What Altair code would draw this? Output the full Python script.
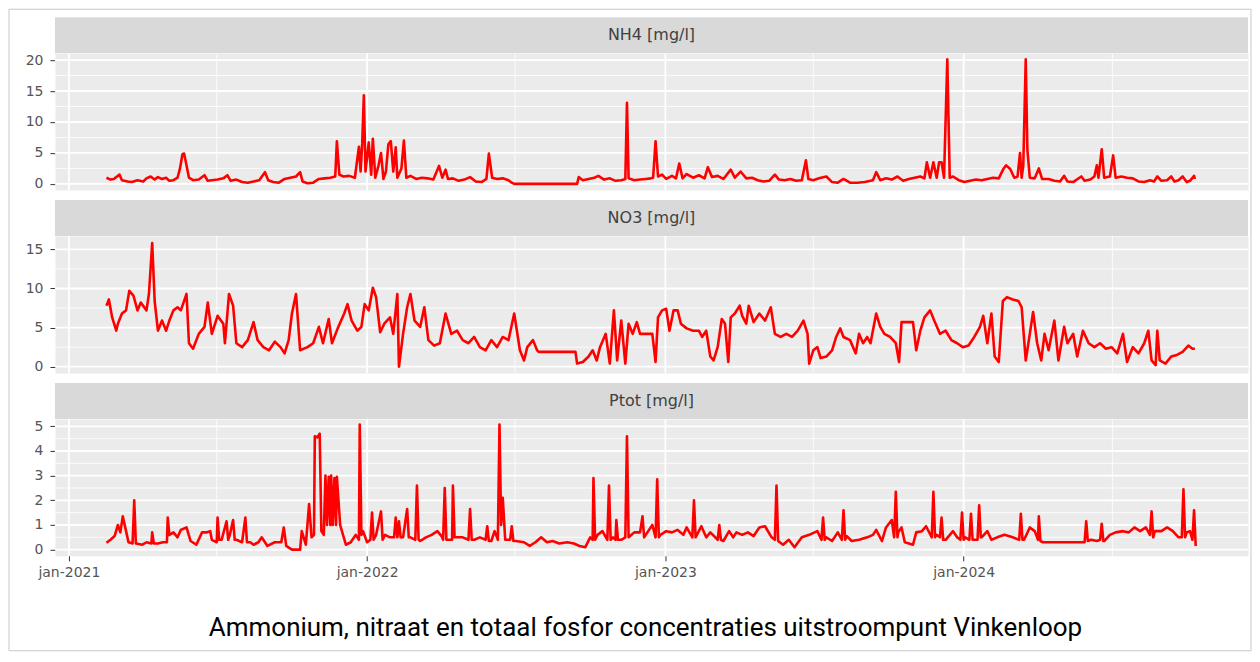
import altair as alt
import pandas as pd

# ---------------- data (day number since 2021-01-01, value) ----------------
nh4_day = [46, 51, 55, 62, 65, 72, 77, 84, 91, 95, 100, 105, 109, 114, 119, 123, 128, 133, 136, 139,
           141, 144, 147, 152, 159, 166, 170, 175, 182, 189, 194, 198, 205, 212, 219, 226, 233, 240, 244, 250,
           257, 264, 271, 278, 283, 286, 292, 299, 306, 313, 320, 326, 328, 331, 336, 343, 350, 355, 357, 359,
           361, 363, 367, 370, 372, 375, 379, 382, 385, 388, 391, 394, 397, 400, 402, 407, 410, 413, 418, 425,
           432, 439, 446, 453, 457, 461, 464, 470, 477, 484, 491, 498, 505, 511, 514, 518, 524, 531, 538, 542,
           545, 622, 624, 629, 636, 643, 648, 655, 662, 669, 676, 681, 683, 685, 692, 699, 706,
           712, 715, 718, 721, 726, 731, 738, 743, 747, 751, 756, 764, 771, 778, 782, 787, 794, 801, 810, 815,
           822, 829, 836, 843, 850, 857, 864, 869, 876, 883, 890, 897, 902, 905, 911, 918, 927, 934, 941, 948,
           956, 965, 974, 984, 988, 993, 1000, 1007, 1014, 1021, 1028, 1035, 1042, 1047, 1050, 1054, 1058, 1062,
           1065, 1068, 1071, 1075, 1078, 1082, 1089, 1096, 1103, 1110, 1117, 1124, 1131, 1138, 1144, 1147, 1152,
           1157, 1161, 1164, 1166, 1168, 1171, 1173, 1176, 1182, 1187, 1191, 1199, 1206, 1213, 1218, 1222, 1229,
           1239, 1243, 1250, 1255, 1258, 1260, 1264, 1267, 1274, 1278, 1281, 1288, 1295, 1302, 1309, 1316, 1323,
           1328, 1332, 1337, 1344, 1349, 1353, 1358, 1363, 1368, 1372, 1377, 1378]
nh4_val = [1.0, 0.7, 0.8, 1.5, 0.6, 0.4, 0.3, 0.6, 0.4, 0.9, 1.2, 0.7, 1.1, 0.8, 1.0, 0.5, 0.6, 1.0, 2.5, 4.8,
           4.9, 3.0, 1.0, 0.6, 0.7, 1.4, 0.5, 0.6, 0.7, 0.9, 1.4, 0.5, 0.7, 0.3, 0.2, 0.4, 0.6, 1.9, 0.6, 0.3,
           0.2, 0.8, 1.0, 1.2, 1.9, 0.4, 0.1, 0.2, 0.8, 0.9, 1.0, 1.2, 6.9, 1.5, 1.2, 1.3, 1.0, 6.0, 2.0, 6.5,
           14.3, 2.0, 6.7, 1.5, 7.3, 1.0, 3.0, 5.0, 0.8, 2.0, 6.4, 6.9, 2.0, 5.9, 1.0, 2.5, 7.0, 1.0, 1.3, 0.8,
           1.0, 0.9, 0.7, 2.9, 1.0, 2.3, 0.8, 0.9, 0.5, 0.7, 1.1, 0.4, 0.3, 0.8, 4.9, 1.0, 0.8, 0.9, 0.6, 0.2,
           0.0, 0.0, 1.1, 0.6, 0.8, 1.0, 1.3, 0.7, 0.9, 0.5, 0.6, 0.8, 13.1, 0.9, 0.6, 0.7, 0.8,
           0.9, 1.0, 6.9, 1.2, 1.5, 0.8, 1.3, 0.9, 3.3, 0.9, 1.6, 1.0, 1.4, 0.9, 2.7, 1.1, 1.3, 0.8, 2.3, 1.0,
           2.0, 0.9, 1.0, 0.6, 0.4, 0.5, 1.5, 0.7, 0.6, 0.8, 0.5, 0.6, 3.8, 0.8, 0.6, 0.9, 1.2, 0.3, 0.2, 0.8,
           0.2, 0.2, 0.3, 0.6, 1.9, 0.6, 0.9, 0.7, 1.2, 0.5, 0.8, 1.0, 1.2, 0.9, 3.5, 1.0, 3.5, 1.0,
           3.5, 3.5, 1.0, 20.1, 1.0, 1.2, 0.6, 0.3, 0.5, 0.7, 0.6, 0.8, 1.0, 0.9, 2.5, 3.0, 2.4,
           1.0, 1.2, 5.0, 1.0, 3.0, 20.1, 5.5, 1.0, 0.9, 2.5, 0.8, 0.8, 0.5, 0.4, 1.3, 0.4, 0.3,
           1.2, 0.5, 0.7, 1.2, 3.0, 1.0, 5.6, 1.0, 1.2, 4.6, 1.0, 1.2, 1.0, 0.9, 0.4, 0.3, 0.6,
           0.4, 1.2, 0.5, 0.6, 1.2, 0.4, 0.6, 1.2, 0.3, 0.5, 1.3, 0.8]

no3_day = [46, 49, 53, 58, 60, 65, 70, 74, 79, 84, 88, 95, 98, 102, 105, 109, 114, 119, 123, 128,
           133, 137, 144, 147, 152, 159, 166, 170, 175, 182, 189, 191, 196, 201, 205, 212, 219, 226, 231, 238,
           245, 252, 259, 264, 269, 273, 278, 283, 292, 299, 306, 311, 318, 322, 329, 337, 341, 346, 353, 358,
           362, 367, 372, 376, 381, 386, 393, 397, 402, 404, 409, 414, 418, 423, 430, 435, 440, 447, 454, 461,
           468, 475, 482, 489, 496, 503, 510, 517, 524, 531, 538, 545, 552, 557, 561, 568, 573, 575, 620, 622,
           629, 636, 641, 646, 650, 657, 662, 667, 671, 676, 681, 685, 690, 695, 699,
           714, 718, 721, 726, 731, 735, 740, 745, 749, 756, 764, 771, 775, 780, 785, 789, 794, 799, 803, 807,
           810, 815, 821, 824, 829, 832, 838, 845, 852, 859, 864, 871, 878, 885, 892, 899, 904, 906, 911, 916,
           920, 927, 934, 939, 944, 948, 956, 963, 967, 972, 977, 981, 988, 993, 998, 1005, 1012, 1016, 1019, 1033,
           1037, 1042, 1047, 1054, 1059, 1066, 1073, 1080, 1087, 1094, 1101, 1108, 1115, 1119, 1124, 1129, 1133,
           1138, 1143, 1148, 1155, 1162, 1166, 1171, 1176, 1180, 1185, 1190, 1194, 1199, 1206, 1211, 1218, 1222,
           1229, 1234, 1241, 1248, 1255, 1262, 1269, 1276, 1283, 1290, 1295, 1302, 1309, 1316, 1321, 1325, 1330,
           1332, 1335, 1342, 1349, 1356, 1363, 1370, 1375, 1378]
no3_val = [7.8, 8.6, 6.3, 4.6, 5.5, 6.8, 7.2, 9.7, 9.1, 7.2, 8.2, 7.2, 9.3, 15.8, 8.4, 4.6, 5.9, 4.6, 5.9, 7.2,
           7.6, 7.2, 9.3, 3.0, 2.3, 4.2, 5.1, 8.2, 4.2, 6.5, 5.5, 3.0, 9.3, 7.8, 3.0, 2.5, 3.4, 5.7, 3.4, 2.5,
           2.1, 3.2, 2.5, 1.7, 3.4, 6.8, 9.3, 2.1, 2.5, 3.0, 5.1, 3.0, 6.1, 3.0, 4.9, 6.8, 8.0, 5.9, 4.6, 5.1,
           8.0, 7.2, 10.1, 8.9, 4.4, 5.5, 6.3, 4.2, 9.3, 0.0, 4.2, 7.6, 9.3, 5.9, 5.1, 7.6, 3.4, 2.7, 3.0, 6.8,
           4.2, 4.6, 3.4, 3.0, 3.8, 2.5, 2.1, 3.4, 2.5, 3.8, 3.4, 6.8, 2.1, 0.8, 2.5, 3.4, 2.1, 1.9, 1.9, 0.4,
           0.6, 1.3, 2.1, 0.8, 2.5, 4.2, 0.4, 7.2, 0.8, 5.9, 0.4, 5.5, 4.2, 5.7, 4.2,
           4.2, 0.6, 6.3, 7.2, 7.4, 4.6, 7.2, 7.2, 5.5, 4.9, 4.6, 4.6, 3.8, 4.6, 1.3, 0.8, 2.5, 6.1, 5.5, 0.6,
           6.3, 6.8, 7.8, 6.5, 5.5, 7.8, 5.7, 6.8, 5.9, 7.6, 4.2, 3.8, 4.2, 3.8, 4.6, 5.9, 4.2, 0.4, 2.1, 2.5,
           1.1, 1.3, 2.1, 3.8, 4.9, 3.8, 3.4, 1.7, 4.2, 3.0, 3.8, 3.0, 6.8, 5.1, 4.2, 3.8, 3.0, 0.6, 5.7, 5.7,
           2.1, 4.6, 6.3, 7.2, 5.9, 4.2, 4.6, 3.4, 3.0, 2.5, 2.7, 3.8, 5.1, 6.5, 3.0, 6.8, 1.3,
           0.6, 8.4, 8.9, 8.6, 8.4, 7.6, 0.8, 4.2, 7.0, 3.0, 0.8, 4.2, 2.1, 5.9, 0.8, 5.1, 3.0,
           4.2, 1.3, 4.6, 3.0, 2.5, 3.0, 2.3, 2.5, 1.7, 4.2, 0.6, 2.5, 1.7, 3.0, 4.6, 0.8, 0.2,
           4.6, 0.8, 0.4, 1.3, 1.5, 1.9, 2.7, 2.3, 2.3]

ptot_day = [46, 51, 56, 60, 63, 66, 70, 73, 78, 80, 82, 90, 95, 101, 102, 104, 109, 115, 120, 121,
            123, 128, 133, 137, 144, 149, 156, 163, 168, 173, 175, 181, 182, 184, 187, 193, 195, 197, 201, 203,
            205, 212, 216, 218, 222, 226, 232, 236, 243, 252, 260, 263, 266, 273, 283, 285, 290, 294, 297, 300,
            301, 304, 307, 309, 312, 314, 316, 318, 320, 321, 323, 325, 327, 328, 332, 339, 345, 351, 355, 356,
            358, 360, 365, 369, 371, 373, 376, 382, 384, 387, 393, 398, 400, 402, 404, 406, 409, 414, 416, 418,
            424, 426, 428, 430, 437, 444, 451, 456, 458, 460, 462, 465, 469, 470, 472, 475, 482, 489, 491, 493,
            496, 503, 510, 512, 514, 517, 521, 525, 527, 529, 531, 534, 540, 542, 544, 547, 557, 564, 571, 578,
            585, 592, 600, 610, 618, 625, 632, 638, 641, 642, 644, 647, 653, 659, 661, 663, 666, 669, 670, 672,
            676, 681, 683, 685, 692, 699, 702, 704,
            709, 714, 718, 720, 722, 724, 731, 738, 745, 752, 756, 763, 765, 767, 774, 780, 785, 794, 796, 798,
            801, 808, 813, 817, 824, 831, 838, 845, 852, 860, 864, 866, 868, 874, 881, 888, 897, 906, 916, 921,
            923, 925, 927, 934, 941, 946, 948, 950, 952, 958, 967, 977, 984, 988, 995, 1000, 1007, 1010, 1012, 1014,
            1015, 1019, 1023, 1033, 1037, 1044, 1049, 1056, 1058, 1060, 1062, 1066, 1068, 1070, 1073, 1082, 1087,
            1091, 1093, 1095, 1097, 1102, 1104, 1106, 1108, 1112, 1114, 1116, 1117, 1124, 1129, 1136, 1145, 1155,
            1163, 1165, 1167, 1169, 1176, 1182, 1186, 1187, 1189, 1192, 1243, 1245, 1247, 1251, 1258, 1262, 1264,
            1266, 1267, 1274, 1281, 1290, 1297, 1304, 1311, 1318, 1323, 1325, 1327, 1329, 1337, 1344, 1351, 1358,
            1362, 1364, 1366, 1368, 1372, 1375, 1377, 1379]
ptot_val = [0.28, 0.4, 0.55, 1.0, 0.7, 1.35, 0.75, 0.3, 0.25, 2.0, 0.25, 0.2, 0.3, 0.25, 0.7, 0.25, 0.25, 0.3, 0.3, 1.3,
            0.6, 0.7, 0.5, 0.8, 0.9, 0.35, 0.2, 0.7, 0.7, 0.75, 0.4, 0.3, 1.3, 0.4, 0.4, 1.15, 0.4, 0.6, 1.2, 0.4,
            0.4, 0.3, 1.3, 0.3, 0.3, 0.2, 0.3, 0.5, 0.15, 0.3, 0.3, 0.9, 0.15, 0.0, 0.0, 0.75, 0.2, 1.85, 0.5, 0.6,
            4.6, 4.55, 4.7, 0.75, 0.6, 3.0, 1.0, 2.95, 1.0, 3.0, 1.0, 2.9, 1.0, 2.95, 1.0, 0.2, 0.3, 0.6, 0.4, 5.07,
            0.6, 0.75, 0.3, 0.4, 1.5, 0.4, 0.6, 1.55, 0.4, 0.6, 0.5, 0.5, 1.3, 0.5, 1.15, 0.5, 0.5, 1.65, 0.5, 0.5,
            0.4, 2.6, 0.4, 0.35, 0.5, 0.6, 0.75, 0.55, 0.4, 2.5, 0.4, 0.4, 0.4, 2.6, 0.5, 0.5, 0.5, 0.4, 1.65, 0.4,
            0.4, 0.5, 0.4, 0.95, 0.35, 0.35, 0.75, 0.4, 5.07, 1.0, 2.1, 0.4, 0.4, 0.95, 0.35, 0.35, 0.3, 0.15, 0.3, 0.5,
            0.3, 0.35, 0.25, 0.3, 0.25, 0.15, 0.1, 0.5, 0.4, 2.9, 0.4, 0.6, 0.75, 0.4, 2.6, 0.4, 0.5, 0.4, 1.2, 0.4,
            0.4, 0.5, 4.6, 0.5, 0.7, 0.7, 1.35, 0.5,
            0.75, 1.0, 0.5, 2.85, 0.5, 0.6, 0.75, 0.7, 0.8, 0.6, 0.9, 0.5, 2.0, 0.5, 0.95, 0.5, 0.7, 0.4, 1.0, 0.4,
            0.35, 0.75, 0.5, 0.7, 0.6, 0.7, 0.55, 0.9, 0.95, 0.5, 0.4, 2.6, 0.35, 0.2, 0.4, 0.1, 0.5, 0.6, 0.75, 0.4,
            1.3, 0.4, 0.5, 0.35, 0.7, 0.4, 1.6, 0.4, 0.55, 0.35, 0.4, 0.5, 0.6, 0.8, 0.35, 0.9, 1.2, 0.5, 2.35, 0.5,
            0.7, 0.9, 0.3, 0.2, 0.7, 0.75, 0.95, 0.5, 2.35, 0.5, 0.6, 0.5, 1.3, 0.4, 0.4, 0.75, 0.5,
            0.4, 1.5, 0.4, 0.5, 0.4, 1.45, 0.4, 0.4, 0.4, 1.8, 0.5, 0.5, 0.75, 0.4, 0.5, 0.6, 0.5,
            0.4, 1.45, 0.4, 0.4, 0.9, 0.75, 0.4, 1.35, 0.35, 0.3, 0.3, 1.15, 0.35, 0.4, 0.35, 0.4, 1.05,
            0.35, 0.35, 0.6, 0.7, 0.75, 0.7, 0.9, 0.75, 0.9, 0.6, 1.55, 0.5, 0.75, 0.75, 0.9, 0.75, 0.5,
            0.5, 2.45, 0.5, 0.7, 0.75, 0.4, 1.6, 0.15]

panel_labels = ["NH4 [mg/l]", "NO3 [mg/l]", "Ptot [mg/l]"]
caption = "Ammonium, nitraat en totaal fosfor concentraties uitstroompunt Vinkenloop"

nh4_major = [0, 5, 10, 15, 20]
nh4_minor = [2.5, 7.5, 12.5, 17.5]
no3_major = [0, 5, 10, 15]
no3_minor = [2.5, 7.5, 12.5]
ptot_major = [0, 1, 2, 3, 4, 5]
ptot_minor = [0.5, 1.5, 2.5, 3.5, 4.5]
nh4_domain = [-1.0, 21.1]
no3_domain = [-0.8, 16.7]
ptot_domain = [-0.25, 5.3]

year_ticks = ["2021-01-01", "2022-01-01", "2023-01-01", "2024-01-01"]
mid_year = ["2021-07-01", "2022-07-01", "2023-07-01", "2024-07-01"]

# ---------------- layout ----------------
W = 1194
H = 137
STRIP = 36
RED = "#FF0000"
AXFONT = "DejaVu Sans"

origin = pd.Timestamp("2021-01-01")


def to_dates(days):
    return origin + pd.to_timedelta(days, unit="D")


x_scale = alt.Scale(domain=[alt.DateTime(year=2020, month=12, date=15),
                            alt.DateTime(year=2024, month=12, date=14)])
x_tick_values = [alt.DateTime(year=int(s[:4]), month=1, date=1) for s in year_ticks]

one_row = alt.Data(values=[{"k": 1}])


def panel(days, vals, ydom, major, minor, label, bottom, extra=None):
    ys = alt.Scale(domain=ydom, nice=False, zero=False)
    df = pd.DataFrame({"date": to_dates(days), "value": vals})

    if bottom:
        xaxis = alt.Axis(values=x_tick_values, format="%b-%Y",
                         labelExpr="lower(datum.label)", grid=False, domain=False,
                         ticks=True, tickSize=5, tickColor="#333333", labelPadding=5,
                         labelFont=AXFONT, labelFontSize=14, labelColor="#555555", title=None)
    else:
        xaxis = alt.Axis(values=x_tick_values, labels=False, ticks=False, grid=False,
                         domain=False, title=None)

    yaxis = alt.Axis(values=major, grid=False, domain=False, ticks=True, tickSize=5,
                     tickColor="#333333", labelPadding=7, labelFont=AXFONT, labelFontSize=14,
                     labelColor="#555555", title=None)

    vmaj = alt.Chart(pd.DataFrame({"d": pd.to_datetime(year_ticks)})).mark_rule(
        color="white", strokeWidth=1.8).encode(x=alt.X("d:T", scale=x_scale, axis=xaxis))
    vmin = alt.Chart(pd.DataFrame({"d": pd.to_datetime(mid_year)})).mark_rule(
        color="white", strokeWidth=0.8).encode(x=alt.X("d:T", scale=x_scale, axis=xaxis))
    hmaj = alt.Chart(pd.DataFrame({"v": major})).mark_rule(
        color="white", strokeWidth=1.8).encode(y=alt.Y("v:Q", scale=ys, axis=yaxis))
    hmin = alt.Chart(pd.DataFrame({"v": minor})).mark_rule(
        color="white", strokeWidth=0.8).encode(y=alt.Y("v:Q", scale=ys, axis=yaxis))

    line = alt.Chart(df).mark_line(color=RED, strokeWidth=2.6, strokeJoin="round").encode(
        x=alt.X("date:T", scale=x_scale, axis=xaxis),
        y=alt.Y("value:Q", scale=ys, axis=yaxis),
    )

    strip = alt.Chart(one_row).mark_rect(fill="#D9D9D9").encode(
        x=alt.value(0), x2=alt.value(W), y=alt.value(-STRIP), y2=alt.value(0))
    strip_text = alt.Chart(one_row).mark_text(
        text=label, font=AXFONT, fontSize=16, color="#404040", align="center", baseline="middle"
    ).encode(x=alt.value(W / 2), y=alt.value(-STRIP / 2))

    layers = [vmin, hmin, vmaj, hmaj, line, strip, strip_text]
    if extra is not None:
        layers += extra
    return alt.layer(*layers).properties(width=W, height=H)


frame = alt.Chart(one_row).mark_rect(fillOpacity=0, stroke="#c8c8c8", strokeWidth=1).encode(
    x=alt.value(-46), x2=alt.value(1197), y=alt.value(-44), y2=alt.value(598))

cap = alt.Chart(one_row).mark_text(
    text=caption, font="Roboto", fontSize=26, color="#000000", align="center", baseline="middle"
).encode(x=alt.value(591), y=alt.value(H + 72))

p1 = panel(nh4_day, nh4_val, nh4_domain, nh4_major, nh4_minor, panel_labels[0], False, [frame])
p2 = panel(no3_day, no3_val, no3_domain, no3_major, no3_minor, panel_labels[1], False)
p3 = panel(ptot_day, ptot_val, ptot_domain, ptot_major, ptot_minor, panel_labels[2], True, [cap])

chart = alt.vconcat(p1, p2, p3, spacing=46, bounds="flush").properties(
    padding=0, background="white"
).configure_view(fill="#EBEBEB", stroke="transparent")

chart.save("out.html", embed_options={"renderer": "svg", "actions": False})
